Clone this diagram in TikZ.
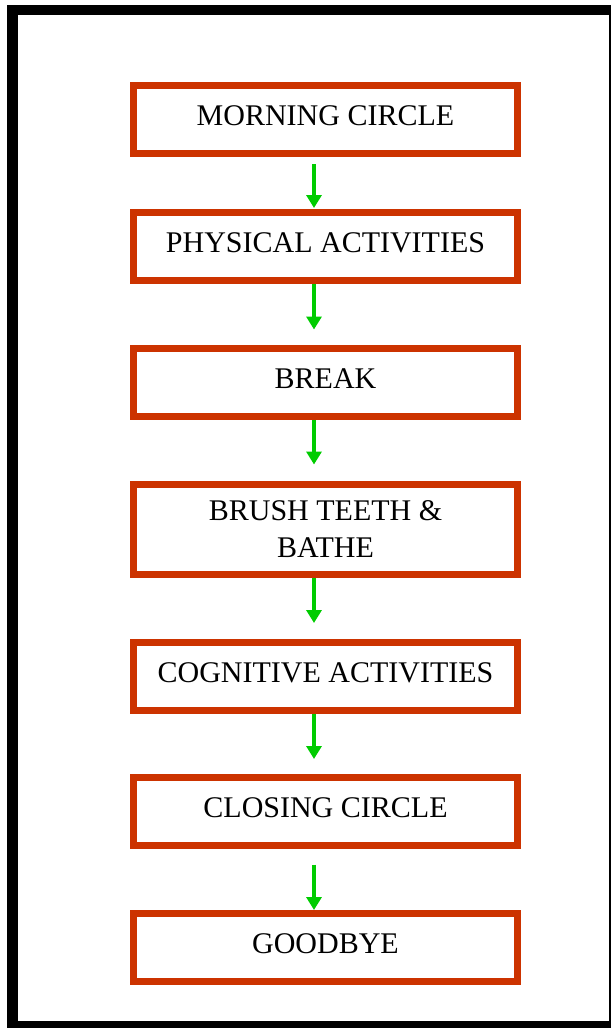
\documentclass[tikz,border=0pt]{standalone}
\usepackage{fontspec}
\setmainfont{Liberation Serif}
\usetikzlibrary{arrows.meta}
\definecolor{boxred}{RGB}{204,51,0}
\definecolor{arrgreen}{RGB}{0,204,0}
\begin{document}
\begin{tikzpicture}[x=1pt,y=-1pt,
  stepbox/.style={draw=boxred, line width=7pt, fill=white, minimum width=384pt,
    minimum height=68pt, inner sep=0pt, font=\fontsize{30}{37}\selectfont,
    text height=20pt, text depth=8pt},
  flow/.style={draw=arrgreen, line width=3.5pt,
    -{Triangle[width=15pt,length=13pt]}}]
\useasboundingbox (0,0) rectangle (611,1028);
\fill[black] (7,5) rectangle (611,1028);
\fill[white] (18,15) rectangle (609,1021);
\node[stepbox] (b1) at (325.5,119) {MORNING CIRCLE};
\node[stepbox] (b2) at (325.5,246.5) {PHYSICAL ACTIVITIES};
\node[stepbox] (b3) at (325.5,382.5) {BREAK};
\node[stepbox, minimum height=90pt, text height={}, text depth={}, align=center] (b4) at (325.5,529.5) {BRUSH TEETH \&\\BATHE};
\node[stepbox] (b5) at (325.5,676) {COGNITIVE ACTIVITIES};
\node[stepbox] (b6) at (325.5,811.5) {CLOSING CIRCLE};
\node[stepbox] (b7) at (325.5,947.5) {GOODBYE};
\draw[flow, shorten <=7.5pt, shorten >=1pt] ([xshift=-11.5pt]b1.south) -- ([xshift=-11.5pt]b2.north);
\draw[flow, shorten >=15.5pt] ([xshift=-11.5pt]b2.south) -- ([xshift=-11.5pt]b3.north);
\draw[flow, shorten >=16.5pt] ([xshift=-11.5pt]b3.south) -- ([xshift=-11.5pt]b4.north);
\draw[flow, shorten >=15.5pt] ([xshift=-11.5pt]b4.south) -- ([xshift=-11.5pt]b5.north);
\draw[flow, shorten >=15pt] ([xshift=-11.5pt]b5.south) -- ([xshift=-11.5pt]b6.north);
\draw[flow, shorten <=15.5pt] ([xshift=-11.5pt]b6.south) -- ([xshift=-11.5pt]b7.north);
\end{tikzpicture}
\end{document}
